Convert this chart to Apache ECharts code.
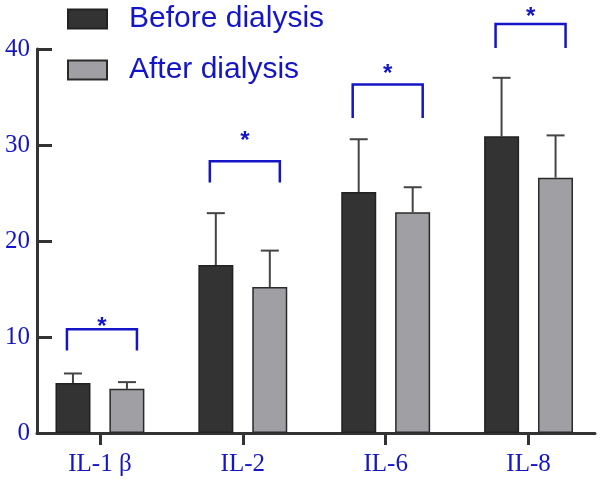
<!DOCTYPE html>
<html>
<head>
<meta charset="utf-8">
<script src="https://cdn.jsdelivr.net/npm/echarts@6/dist/echarts.min.js"></script>
<style>
  html, body { margin: 0; padding: 0; background: #fff; }
  #main { width: 600px; height: 481px; }
</style>
</head>
<body>
<div id="main"></div>
<script>
// values
const categories = ['IL-1 β', 'IL-2', 'IL-6', 'IL-8']
const beforeMean = [5.2, 17.5, 25.1, 30.9]
const beforeUpper = [6.2, 22.9, 30.6, 37.0]
const afterMean = [4.6, 15.2, 23.0, 26.6]
const afterUpper = [5.3, 19.0, 25.6, 31.0]
// significance brackets: top line, end of the legs, star height
const sigTop = [10.8, 28.3, 36.3, 42.6]
const sigFoot = [8.6, 26.1, 32.8, 40.1]
const sigStar = [11.5, 30.9, 37.9, 43.8]
const yMin = 0
const yMax = 40
const yStep = 10

const blue = '#1515c8'
const dark = '#333333'
const serif = '"Liberation Serif", "DejaVu Serif", serif'

const chart = echarts.init(document.getElementById('main'))

function errorSeries(means, uppers, shift) {
  return {
    type: 'custom',
    xAxisIndex: 0,
    yAxisIndex: 0,
    z: 1,
    silent: true,
    data: means.map((m, i) => [i, m, uppers[i]]),
    renderItem: (params, api) => {
      const base = api.coord([api.value(0), api.value(1)])
      const top = api.coord([api.value(0), api.value(2)])
      const x = base[0] + shift
      const st = { stroke: '#444', lineWidth: 2 }
      return {
        type: 'group',
        children: [
          { type: 'line', shape: { x1: x, y1: base[1], x2: x, y2: top[1] }, style: st },
          { type: 'line', shape: { x1: x - 9, y1: top[1], x2: x + 9, y2: top[1] }, style: st },
        ],
      }
    },
  }
}

const option = {
  animation: false,
  grid: [
    // bars / category band
    { left: 28.5, top: 49, width: 573, height: 384 },
    // visible axes frame
    { left: 37, top: 49, width: 558, height: 384 },
  ],
  legend: {
    data: ['Before dialysis', 'After dialysis'],
    orient: 'vertical',
    left: 67,
    top: 4,
    padding: 0,
    itemWidth: 39,
    itemHeight: 19,
    itemGap: 21,
    icon: 'rect',
    textStyle: {
      fontFamily: '"Liberation Sans", Arial, sans-serif',
      fontSize: 30,
      color: blue,
      padding: [0, 0, 0, 17],
    },
  },
  xAxis: [
    {
      type: 'category',
      gridIndex: 0,
      data: categories,
      axisLine: { show: false },
      axisTick: { show: true, alignWithLabel: true, length: 12, lineStyle: { color: dark, width: 3 } },
      axisLabel: { color: blue, fontFamily: serif, fontSize: 25, margin: 19 },
      splitLine: { show: false },
    },
    {
      type: 'value',
      gridIndex: 1,
      min: 0,
      max: 1,
      axisLine: { show: true, lineStyle: { color: dark, width: 3 } },
      axisTick: { show: false },
      axisLabel: { show: false },
      splitLine: { show: false },
    },
  ],
  yAxis: [
    {
      type: 'value',
      gridIndex: 0,
      min: yMin,
      max: yMax,
      show: false,
    },
    {
      type: 'value',
      gridIndex: 1,
      min: yMin,
      max: yMax,
      interval: yStep,
      axisLine: { show: true, lineStyle: { color: dark, width: 3 } },
      axisTick: { show: true, inside: true, length: 15, lineStyle: { color: dark, width: 3 } },
      axisLabel: { color: blue, fontFamily: serif, fontSize: 25, margin: 7 },
      splitLine: { show: false },
    },
  ],
  series: [
    {
      name: 'Before dialysis',
      type: 'bar',
      xAxisIndex: 0,
      yAxisIndex: 0,
      barWidth: 35,
      barGap: '54%',
      data: beforeMean,
      itemStyle: { color: '#333333', borderColor: '#222', borderWidth: 1.5 },
    },
    {
      name: 'After dialysis',
      type: 'bar',
      xAxisIndex: 0,
      yAxisIndex: 0,
      barWidth: 35,
      barGap: '54%',
      data: afterMean,
      itemStyle: { color: '#a0a0a4', borderColor: '#2a2a2a', borderWidth: 1.5 },
    },
    errorSeries(beforeMean, beforeUpper, -27),
    errorSeries(afterMean, afterUpper, 27),
    {
      type: 'custom',
      xAxisIndex: 0,
      yAxisIndex: 0,
      silent: true,
      clip: false,
      data: sigTop.map((t, i) => [i, t, sigFoot[i], sigStar[i]]),
      renderItem: (params, api) => {
        const top = api.coord([api.value(0), api.value(1)])
        const foot = api.coord([api.value(0), api.value(2)])
        const star = api.coord([api.value(0), api.value(3)])
        const xl = top[0] - 33
        const xr = top[0] + 37
        return {
          type: 'group',
          children: [
            {
              type: 'polyline',
              shape: { points: [[xl, foot[1]], [xl, top[1]], [xr, top[1]], [xr, foot[1]]] },
              style: { stroke: blue, lineWidth: 2.5, fill: null },
            },
            {
              type: 'text',
              style: {
                x: top[0] + 2,
                y: star[1] + 5,
                text: '*',
                fill: blue,
                font: 'bold 24px "Liberation Sans", Arial, sans-serif',
                align: 'center',
                verticalAlign: 'middle',
              },
            },
          ],
        }
      },
    },
  ],
}

chart.setOption(option)
</script>
</body>
</html>
